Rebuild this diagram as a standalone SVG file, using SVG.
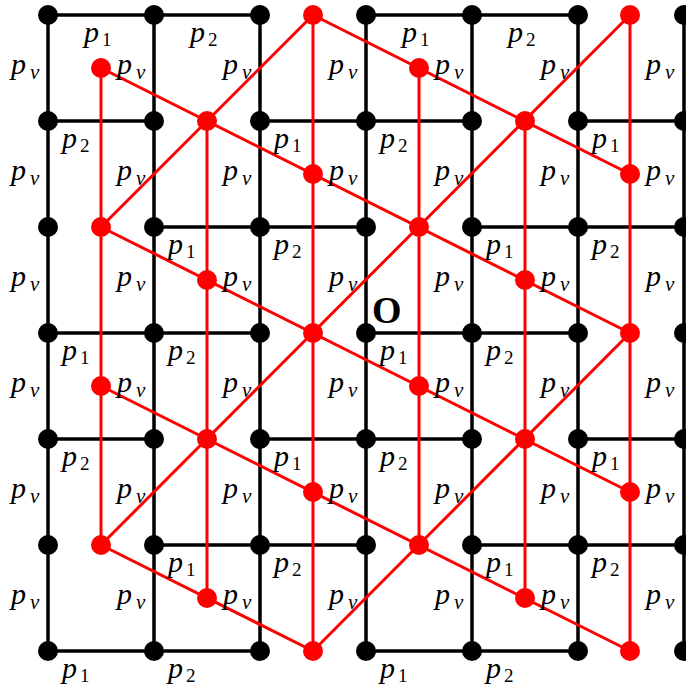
<svg xmlns="http://www.w3.org/2000/svg" width="686" height="685" viewBox="0 0 686 685">
<style>
.bl{stroke:#000;stroke-width:3.5;fill:none;stroke-linecap:round}
.rl{stroke:#ff0000;stroke-width:3;fill:none;stroke-linecap:round}
.bd{fill:#000}
.rd{fill:#ff0000}
.lb{font-family:"Liberation Serif","DejaVu Serif",serif;font-style:italic;font-size:30px;fill:#000}
.sn{font-style:normal;font-size:19px}
.sv{font-style:italic;font-size:21px}
.o{font-family:"Liberation Serif","DejaVu Serif",serif;font-weight:bold;font-size:38px;fill:#000}
</style>
<rect width="686" height="685" fill="#fff"/>
<g id="connectors">
<g id="black-edges" class="bl">
<path d="M48,15V651M154,15V651M260,15V651M366,15V651M472,15V651M578,15V651M684,15V651"/>
<path d="M48,15H260M366,15H578M48,333H260M366,333H578M48,651H260M366,651H578"/>
<path d="M48,121H154M260,121H472M578,121H684M48,439H154M260,439H472M578,439H684"/>
<path d="M154,227H366M472,227H684M154,545H366M472,545H684"/>
</g>
<g id="red-edges" class="rl">
<path d="M101,68V545M207,121V598M313,15V651M419,68V545M525,121V598M630,15V651"/>
<path d="M313,15L630,174M101,68L630,333M101,227L630,492M101,386L630,651M101,545L313,651"/>
<path d="M101,227L313,15M101,545L630,15M313,651L630,333"/>
</g>
</g>
<g id="black-nodes" class="bd">
<g id="b1"><circle cx="48" cy="15" r="10"/></g><g id="b2"><circle cx="154" cy="15" r="10"/></g><g id="b3"><circle cx="260" cy="15" r="10"/></g><g id="b4"><circle cx="366" cy="15" r="10"/></g><g id="b5"><circle cx="472" cy="15" r="10"/></g><g id="b6"><circle cx="578" cy="15" r="10"/></g><g id="b7"><circle cx="684" cy="15" r="10"/></g>
<g id="b8"><circle cx="48" cy="121" r="10"/></g><g id="b9"><circle cx="154" cy="121" r="10"/></g><g id="b10"><circle cx="260" cy="121" r="10"/></g><g id="b11"><circle cx="366" cy="121" r="10"/></g><g id="b12"><circle cx="472" cy="121" r="10"/></g><g id="b13"><circle cx="578" cy="121" r="10"/></g><g id="b14"><circle cx="684" cy="121" r="10"/></g>
<g id="b15"><circle cx="48" cy="227" r="10"/></g><g id="b16"><circle cx="154" cy="227" r="10"/></g><g id="b17"><circle cx="260" cy="227" r="10"/></g><g id="b18"><circle cx="366" cy="227" r="10"/></g><g id="b19"><circle cx="472" cy="227" r="10"/></g><g id="b20"><circle cx="578" cy="227" r="10"/></g><g id="b21"><circle cx="684" cy="227" r="10"/></g>
<g id="b22"><circle cx="48" cy="333" r="10"/></g><g id="b23"><circle cx="154" cy="333" r="10"/></g><g id="b24"><circle cx="260" cy="333" r="10"/></g><g id="b25"><circle cx="366" cy="333" r="10"/></g><g id="b26"><circle cx="472" cy="333" r="10"/></g><g id="b27"><circle cx="578" cy="333" r="10"/></g><g id="b28"><circle cx="684" cy="333" r="10"/></g>
<g id="b29"><circle cx="48" cy="439" r="10"/></g><g id="b30"><circle cx="154" cy="439" r="10"/></g><g id="b31"><circle cx="260" cy="439" r="10"/></g><g id="b32"><circle cx="366" cy="439" r="10"/></g><g id="b33"><circle cx="472" cy="439" r="10"/></g><g id="b34"><circle cx="578" cy="439" r="10"/></g><g id="b35"><circle cx="684" cy="439" r="10"/></g>
<g id="b36"><circle cx="48" cy="545" r="10"/></g><g id="b37"><circle cx="154" cy="545" r="10"/></g><g id="b38"><circle cx="260" cy="545" r="10"/></g><g id="b39"><circle cx="366" cy="545" r="10"/></g><g id="b40"><circle cx="472" cy="545" r="10"/></g><g id="b41"><circle cx="578" cy="545" r="10"/></g><g id="b42"><circle cx="684" cy="545" r="10"/></g>
<g id="b43"><circle cx="48" cy="651" r="10"/></g><g id="b44"><circle cx="154" cy="651" r="10"/></g><g id="b45"><circle cx="260" cy="651" r="10"/></g><g id="b46"><circle cx="366" cy="651" r="10"/></g><g id="b47"><circle cx="472" cy="651" r="10"/></g><g id="b48"><circle cx="578" cy="651" r="10"/></g><g id="b49"><circle cx="684" cy="651" r="10"/></g>
</g>
<g id="red-nodes" class="rd">
<g id="r1"><circle cx="101" cy="68" r="10"/></g><g id="r2"><circle cx="101" cy="227" r="10"/></g><g id="r3"><circle cx="101" cy="386" r="10"/></g><g id="r4"><circle cx="101" cy="545" r="10"/></g>
<g id="r5"><circle cx="207" cy="121" r="10"/></g><g id="r6"><circle cx="207" cy="280" r="10"/></g><g id="r7"><circle cx="207" cy="439" r="10"/></g><g id="r8"><circle cx="207" cy="598" r="10"/></g>
<g id="r9"><circle cx="313" cy="15" r="10"/></g><g id="r10"><circle cx="313" cy="174" r="10"/></g><g id="r11"><circle cx="313" cy="333" r="10"/></g><g id="r12"><circle cx="313" cy="492" r="10"/></g><g id="r13"><circle cx="313" cy="651" r="10"/></g>
<g id="r14"><circle cx="419" cy="68" r="10"/></g><g id="r15"><circle cx="419" cy="227" r="10"/></g><g id="r16"><circle cx="419" cy="386" r="10"/></g><g id="r17"><circle cx="419" cy="545" r="10"/></g>
<g id="r18"><circle cx="525" cy="121" r="10"/></g><g id="r19"><circle cx="525" cy="280" r="10"/></g><g id="r20"><circle cx="525" cy="439" r="10"/></g><g id="r21"><circle cx="525" cy="598" r="10"/></g>
<g id="r22"><circle cx="630" cy="15" r="10"/></g><g id="r23"><circle cx="630" cy="174" r="10"/></g><g id="r24"><circle cx="630" cy="333" r="10"/></g><g id="r25"><circle cx="630" cy="492" r="10"/></g><g id="r26"><circle cx="630" cy="651" r="10"/></g>
</g>
<g id="labels" class="lb">
<text x="84" y="42">p<tspan class="sn" dx="3" dy="4">1</tspan></text>
<text x="190" y="42">p<tspan class="sn" dx="3" dy="4">2</tspan></text>
<text x="402" y="42">p<tspan class="sn" dx="3" dy="4">1</tspan></text>
<text x="508" y="42">p<tspan class="sn" dx="3" dy="4">2</tspan></text>
<text x="62" y="148">p<tspan class="sn" dx="3" dy="4">2</tspan></text>
<text x="274" y="148">p<tspan class="sn" dx="3" dy="4">1</tspan></text>
<text x="380" y="148">p<tspan class="sn" dx="3" dy="4">2</tspan></text>
<text x="592" y="148">p<tspan class="sn" dx="3" dy="4">1</tspan></text>
<text x="168" y="254">p<tspan class="sn" dx="3" dy="4">1</tspan></text>
<text x="274" y="254">p<tspan class="sn" dx="3" dy="4">2</tspan></text>
<text x="486" y="254">p<tspan class="sn" dx="3" dy="4">1</tspan></text>
<text x="592" y="254">p<tspan class="sn" dx="3" dy="4">2</tspan></text>
<text x="62" y="360">p<tspan class="sn" dx="3" dy="4">1</tspan></text>
<text x="168" y="360">p<tspan class="sn" dx="3" dy="4">2</tspan></text>
<text x="380" y="360">p<tspan class="sn" dx="3" dy="4">1</tspan></text>
<text x="486" y="360">p<tspan class="sn" dx="3" dy="4">2</tspan></text>
<text x="62" y="466">p<tspan class="sn" dx="3" dy="4">2</tspan></text>
<text x="274" y="466">p<tspan class="sn" dx="3" dy="4">1</tspan></text>
<text x="380" y="466">p<tspan class="sn" dx="3" dy="4">2</tspan></text>
<text x="592" y="466">p<tspan class="sn" dx="3" dy="4">1</tspan></text>
<text x="168" y="572">p<tspan class="sn" dx="3" dy="4">1</tspan></text>
<text x="274" y="572">p<tspan class="sn" dx="3" dy="4">2</tspan></text>
<text x="486" y="572">p<tspan class="sn" dx="3" dy="4">1</tspan></text>
<text x="592" y="572">p<tspan class="sn" dx="3" dy="4">2</tspan></text>
<text x="62" y="678">p<tspan class="sn" dx="3" dy="4">1</tspan></text>
<text x="168" y="678">p<tspan class="sn" dx="3" dy="4">2</tspan></text>
<text x="380" y="678">p<tspan class="sn" dx="3" dy="4">1</tspan></text>
<text x="486" y="678">p<tspan class="sn" dx="3" dy="4">2</tspan></text>
</g>
<g id="pv-labels" class="lb">
<text x="11" y="74">p<tspan class="sv" dx="4" dy="5">v</tspan></text><text x="117" y="74">p<tspan class="sv" dx="4" dy="5">v</tspan></text><text x="223" y="74">p<tspan class="sv" dx="4" dy="5">v</tspan></text><text x="329" y="74">p<tspan class="sv" dx="4" dy="5">v</tspan></text><text x="435" y="74">p<tspan class="sv" dx="4" dy="5">v</tspan></text><text x="541" y="74">p<tspan class="sv" dx="4" dy="5">v</tspan></text><text x="646" y="74">p<tspan class="sv" dx="4" dy="5">v</tspan></text>
<text x="11" y="180">p<tspan class="sv" dx="4" dy="5">v</tspan></text><text x="117" y="180">p<tspan class="sv" dx="4" dy="5">v</tspan></text><text x="223" y="180">p<tspan class="sv" dx="4" dy="5">v</tspan></text><text x="329" y="180">p<tspan class="sv" dx="4" dy="5">v</tspan></text><text x="435" y="180">p<tspan class="sv" dx="4" dy="5">v</tspan></text><text x="541" y="180">p<tspan class="sv" dx="4" dy="5">v</tspan></text><text x="646" y="180">p<tspan class="sv" dx="4" dy="5">v</tspan></text>
<text x="11" y="286">p<tspan class="sv" dx="4" dy="5">v</tspan></text><text x="117" y="286">p<tspan class="sv" dx="4" dy="5">v</tspan></text><text x="223" y="286">p<tspan class="sv" dx="4" dy="5">v</tspan></text><text x="329" y="286">p<tspan class="sv" dx="4" dy="5">v</tspan></text><text x="435" y="286">p<tspan class="sv" dx="4" dy="5">v</tspan></text><text x="541" y="286">p<tspan class="sv" dx="4" dy="5">v</tspan></text><text x="646" y="286">p<tspan class="sv" dx="4" dy="5">v</tspan></text>
<text x="11" y="392">p<tspan class="sv" dx="4" dy="5">v</tspan></text><text x="117" y="392">p<tspan class="sv" dx="4" dy="5">v</tspan></text><text x="223" y="392">p<tspan class="sv" dx="4" dy="5">v</tspan></text><text x="329" y="392">p<tspan class="sv" dx="4" dy="5">v</tspan></text><text x="435" y="392">p<tspan class="sv" dx="4" dy="5">v</tspan></text><text x="541" y="392">p<tspan class="sv" dx="4" dy="5">v</tspan></text><text x="646" y="392">p<tspan class="sv" dx="4" dy="5">v</tspan></text>
<text x="11" y="498">p<tspan class="sv" dx="4" dy="5">v</tspan></text><text x="117" y="498">p<tspan class="sv" dx="4" dy="5">v</tspan></text><text x="223" y="498">p<tspan class="sv" dx="4" dy="5">v</tspan></text><text x="329" y="498">p<tspan class="sv" dx="4" dy="5">v</tspan></text><text x="435" y="498">p<tspan class="sv" dx="4" dy="5">v</tspan></text><text x="541" y="498">p<tspan class="sv" dx="4" dy="5">v</tspan></text><text x="646" y="498">p<tspan class="sv" dx="4" dy="5">v</tspan></text>
<text x="11" y="604">p<tspan class="sv" dx="4" dy="5">v</tspan></text><text x="117" y="604">p<tspan class="sv" dx="4" dy="5">v</tspan></text><text x="223" y="604">p<tspan class="sv" dx="4" dy="5">v</tspan></text><text x="329" y="604">p<tspan class="sv" dx="4" dy="5">v</tspan></text><text x="435" y="604">p<tspan class="sv" dx="4" dy="5">v</tspan></text><text x="541" y="604">p<tspan class="sv" dx="4" dy="5">v</tspan></text><text x="646" y="604">p<tspan class="sv" dx="4" dy="5">v</tspan></text>
</g>
<g id="origin"><text class="o" x="372" y="323">O</text></g>
</svg>
